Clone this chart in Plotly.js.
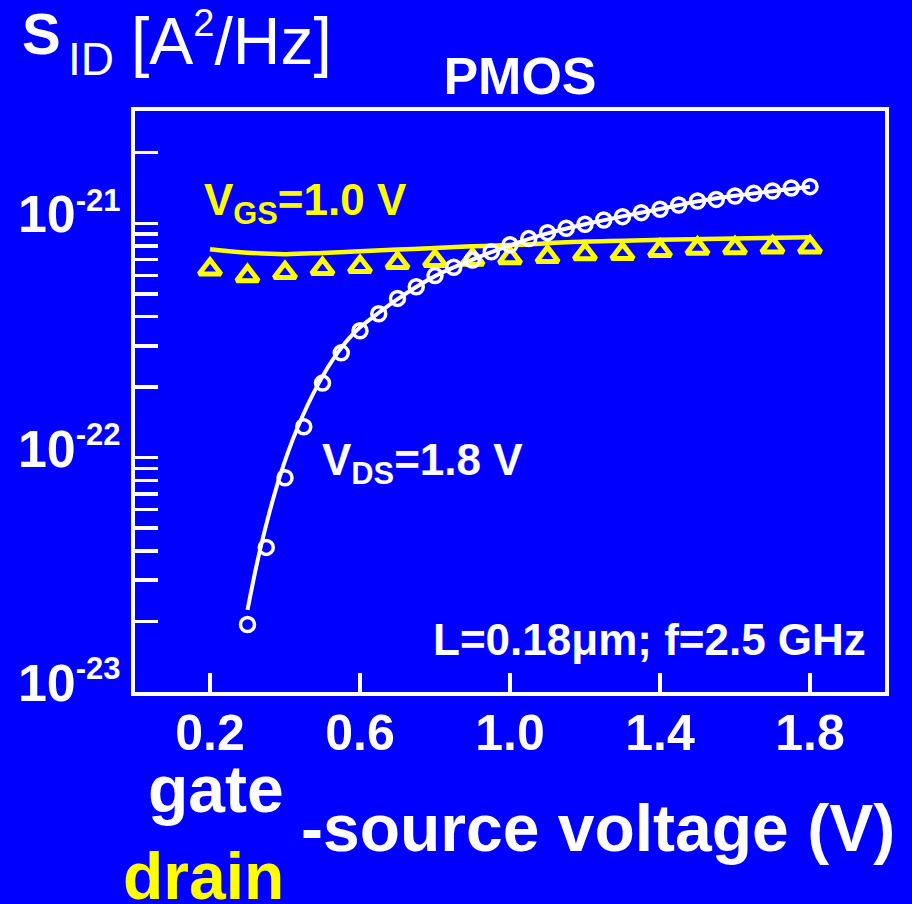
<!DOCTYPE html>
<html><head><meta charset="utf-8">
<script src="https://cdn.plot.ly/plotly-3.0.1.min.js"></script>
<style>html,body{margin:0;padding:0;background:#0000ff;overflow:hidden}#chart{width:912px;height:904px;}</style>
</head><body><div id="chart"></div>
<script>
// ---- data ----
// white: S_ID vs gate-source voltage at V_DS = 1.8 V (measured circles)
const vgsMeas = [0.30,0.35,0.40,0.45,0.50,0.55,0.60,0.65,0.70,0.75,0.80,0.85,0.90,0.95,1.00,1.05,1.10,1.15,1.20,1.25,1.30,1.35,1.40,1.45,1.50,1.55,1.60,1.65,1.70,1.75,1.80];
const sidVdsMeas = [1.94e-23,4.14e-23,8.21e-23,1.355e-22,2.08e-22,2.80e-22,3.48e-22,4.11e-22,4.78e-22,5.36e-22,5.98e-22,6.49e-22,6.97e-22,7.55e-22,8.10e-22,8.60e-22,9.12e-22,9.52e-22,9.90e-22,1.033e-21,1.067e-21,1.110e-21,1.147e-21,1.197e-21,1.245e-21,1.264e-21,1.307e-21,1.343e-21,1.373e-21,1.414e-21,1.433e-21];
// white: model curve
const vgsModel = [0.30,0.335,0.385,0.435,0.49,0.54,0.59,0.65,0.70,0.80,0.90,1.00,1.10,1.20,1.30,1.40,1.50,1.60,1.70,1.80];
const sidVdsModel = [2.24e-23,4.14e-23,8.2e-23,1.36e-22,2.08e-22,2.8e-22,3.48e-22,4.15e-22,4.75e-22,5.95e-22,7.0e-22,8.05e-22,9.05e-22,9.9e-22,1.07e-21,1.15e-21,1.24e-21,1.31e-21,1.37e-21,1.43e-21];
// yellow: S_ID vs drain-source voltage at V_GS = 1.0 V (measured triangles)
const vdsMeas = [0.2,0.3,0.4,0.5,0.6,0.7,0.8,0.9,1.0,1.1,1.2,1.3,1.4,1.5,1.6,1.7,1.8];
const sidVgsMeas = [6.36e-22,5.96e-22,6.15e-22,6.39e-22,6.52e-22,6.78e-22,6.92e-22,7.01e-22,7.11e-22,7.20e-22,7.40e-22,7.42e-22,7.64e-22,7.81e-22,7.84e-22,7.91e-22,7.91e-22];
// yellow: model curve
const vdsModel = [0.2,0.3,0.4,0.5,0.6,0.7,0.8,0.9,1.0,1.2,1.4,1.6,1.8];
const sidVgsModel = [7.75e-22,7.49e-22,7.38e-22,7.47e-22,7.60e-22,7.72e-22,7.84e-22,7.97e-22,8.07e-22,8.35e-22,8.50e-22,8.62e-22,8.72e-22];
// ticks
const xTickVals = [0.2,0.6,1.0,1.4,1.8];
const xTickText = ['0.2','0.6','1.0','1.4','1.8'];
const yTickVals = [1e-23,1e-22,1e-21];
const yTickExp = ['-23','-22','-21'];

// ---- layout helpers ----
const W = 912, H = 904, ML = 135, MR = 27, MT = 111, MB = 212;
const px = x => (x - ML) / (W - ML - MR);
const py = y => (H - MB - y) / (H - MT - MB);
const FAM = 'Liberation Sans, Arial, Helvetica, sans-serif';
const BLUE = '#0000ff', YEL = '#ffff00', WHT = '#ffffff';

const yTickText = yTickExp.map(e => '10<sup><span style="font-size:31px">' + e + '</span></sup>');

const traces = [
  {x: vdsModel, y: sidVgsModel, mode: 'lines', line: {color: YEL, width: 4.5, shape: 'spline'}, hoverinfo: 'skip'},
  {x: vdsMeas, y: sidVgsMeas, mode: 'markers', marker: {symbol: 'triangle-up-open', size: 19, color: YEL, line: {width: 5, color: YEL}}},
  {x: vgsModel, y: sidVdsModel, mode: 'lines', line: {color: WHT, width: 4, shape: 'spline'}, hoverinfo: 'skip'},
  {x: vgsMeas, y: sidVdsMeas, mode: 'markers', marker: {symbol: 'circle-open', size: 14, color: WHT, line: {width: 3.5, color: WHT}}}
];

function ann(text, x, y, xanchor, size, color, bold) {
  return {text: text, x: px(x), y: py(y), xref: 'paper', yref: 'paper', xanchor: xanchor, yanchor: 'middle',
    showarrow: false, borderpad: 0, font: {family: FAM, size: size, color: color, weight: bold ? 'bold' : 'normal'}};
}

const layout = {
  width: W, height: H,
  margin: {l: ML, r: MR, t: MT, b: MB},
  paper_bgcolor: BLUE, plot_bgcolor: BLUE,
  showlegend: false,
  title: {text: 'PMOS', xref: 'container', yref: 'container', x: 520 / W, xanchor: 'center', y: 1 - 76 / H, yanchor: 'middle',
    font: {family: FAM, size: 52, color: WHT, weight: 'bold'}},
  xaxis: {
    range: [0, 2.0], showgrid: false, zeroline: false,
    showline: true, linecolor: WHT, linewidth: 4, mirror: true,
    ticks: 'inside', ticklen: 19, tickwidth: 3.5, tickcolor: WHT,
    tickmode: 'array', tickvals: xTickVals, ticktext: xTickText,
    ticklabelstandoff: -6,
    tickfont: {family: FAM, size: 50, color: WHT, weight: 'bold'}
  },
  yaxis: {
    type: 'log', range: [-23, -20.521], showgrid: false, zeroline: false,
    showline: true, linecolor: WHT, linewidth: 4, mirror: true,
    ticks: 'inside', ticklen: 23, tickwidth: 3.5, tickcolor: WHT,
    tickmode: 'array', tickvals: yTickVals, ticktext: yTickText,
    ticklabelshift: -9,
    tickfont: {family: FAM, size: 52, color: WHT, weight: 'bold'},
    minor: {ticks: 'inside', ticklen: 23, tickwidth: 3.5, tickcolor: WHT, dtick: 'D1', showgrid: false}
  },
  annotations: [
    ann('V<sub>GS</sub>=1.0 V', 203, 203, 'left', 44, YEL, true),
    ann('V<sub>DS</sub>=1.8 V', 321, 463, 'left', 44, WHT, true),
    ann('L=0.18μm; f=2.5 GHz', 867, 639, 'right', 44, WHT, true),
    ann('gate', 285, 789, 'right', 66, WHT, true),
    ann('drain', 285, 876, 'right', 66, YEL, true),
    ann('-source voltage (V)', 300, 828, 'left', 66, WHT, true),
    ann('S', 21, 34, 'left', 58, WHT, true),
    ann('ID', 67, 59, 'left', 46, WHT, false),
    ann('[A<sup><span style="font-size:38px">2</span></sup>/Hz]', 130, 40, 'left', 66, WHT, false)
  ]
};

Plotly.newPlot('chart', traces, layout, {displayModeBar: false, staticPlot: true});
</script>
</body></html>
